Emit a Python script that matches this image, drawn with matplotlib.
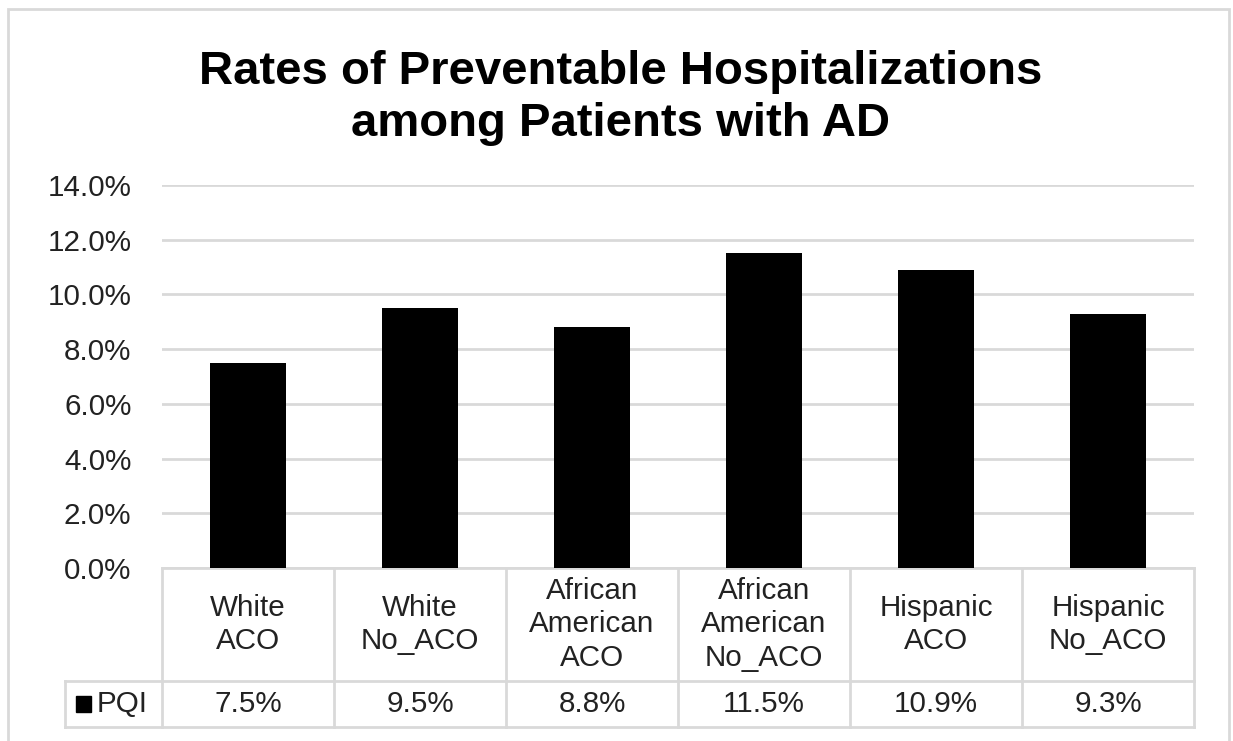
import matplotlib
matplotlib.use("Agg")
import matplotlib.pyplot as plt
from matplotlib.patches import Rectangle
from matplotlib.lines import Line2D

categories = ["White\nACO", "White\nNo_ACO", "African\nAmerican\nACO",
              "African\nAmerican\nNo_ACO", "Hispanic\nACO", "Hispanic\nNo_ACO"]
pqi = [7.5, 9.5, 8.8, 11.5, 10.9, 9.3]
series_name = "PQI"
yticks = [0, 2, 4, 6, 8, 10, 12, 14]
title = "Rates of Preventable Hospitalizations\namong Patients with AD"

plt.rcParams['font.family'] = ['Liberation Sans', 'DejaVu Sans']

W, H = 1233, 741
fig = plt.figure(figsize=(W / 100, H / 100), dpi=100)
grid_c = "#d9d9d9"
txt_c = "#222222"
fs = 21.3

def fx(px):
    return px / W

def fy(py):
    return 1 - py / H

# outer frame
fig.add_artist(Rectangle((fx(8), fy(760)), fx(1229) - fx(8), fy(9) - fy(760),
                         transform=fig.transFigure, fill=False, edgecolor=grid_c, lw=2))

ax = fig.add_axes([fx(162), fy(568), fx(1194) - fx(162), fy(185) - fy(568)])
x = list(range(len(categories)))
ax.bar(x, pqi, width=0.44, color="black", zorder=3)
ax.set_xlim(-0.5, len(categories) - 0.5)
ax.set_ylim(0, 14)
ax.set_yticks(yticks)
ax.set_yticklabels([f"{v:.1f}%" for v in yticks], fontsize=fs, color=txt_c)
ax.tick_params(axis='y', length=0, pad=22)
ax.set_xticks([])
for s in ax.spines.values():
    s.set_visible(False)
ax.grid(axis='y', color=grid_c, lw=2, zorder=0)
ax.set_axisbelow(True)

# data table
axh = 383.0
y_top = 0.0
y_mid = -(681 - 568) / axh
y_bot = -(727 - 568) / axh
x_left = -0.5 - (162 - 65) / 172.0
n = len(categories)
tr = ax.get_xaxis_transform()  # data x, axes y

def hline(x0, x1, y):
    ax.add_line(Line2D([x0, x1], [y, y], transform=tr, color=grid_c, lw=2, clip_on=False))

def vline(xv, y0, y1):
    ax.add_line(Line2D([xv, xv], [y0, y1], transform=tr, color=grid_c, lw=2, clip_on=False))

hline(-0.5, n - 0.5, y_top)
hline(x_left, n - 0.5, y_mid)
hline(x_left, n - 0.5, y_bot)
for i in range(n + 1):
    vline(i - 0.5, y_top, y_bot)
vline(x_left, y_mid, y_bot)

for i, (c, v) in enumerate(zip(categories, pqi)):
    ax.text(i, (y_top + y_mid) / 2, c, transform=tr, ha='center', va='center',
            fontsize=fs, color=txt_c, linespacing=1.27)
    ax.text(i, (y_mid + y_bot) / 2, f"{v:.1f}%", transform=tr, ha='center', va='center',
            fontsize=fs, color=txt_c)

# legend key in table
fig.add_artist(Rectangle((fx(76), fy(712)), fx(15), fy(696) - fy(712),
                         transform=fig.transFigure, color="black"))
fig.text(fx(97), fy(704), series_name, ha='left', va='center', fontsize=fs, color=txt_c)

fig.text(0.503, fy(98), title, ha='center', va='center', fontsize=34,
         fontweight='bold', color="black", linespacing=1.24)

fig.savefig("out.png", dpi=100, facecolor="white")
